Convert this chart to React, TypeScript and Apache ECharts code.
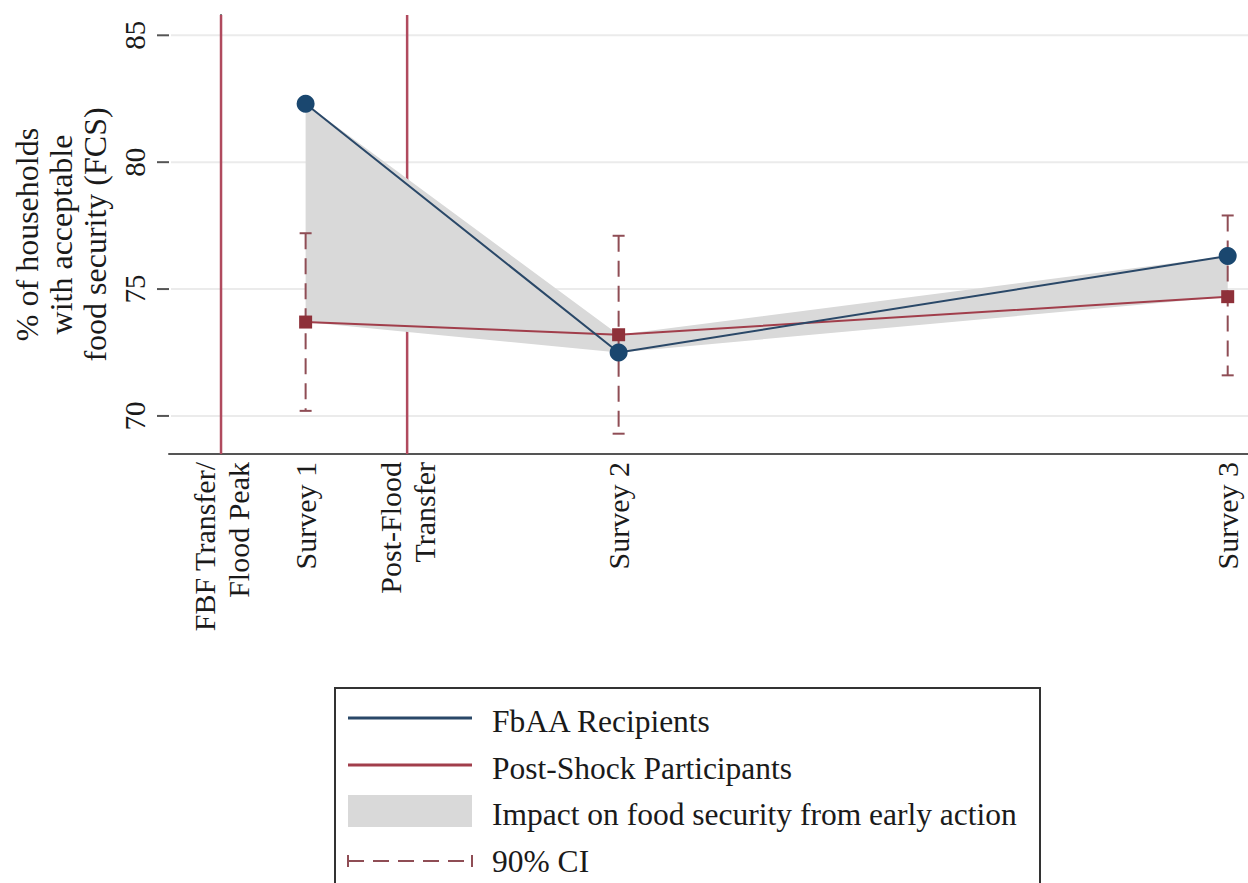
import React, { useEffect, useRef } from "react";
import * as echarts from "echarts";

// Timeline positions (axis units) and their labels
const tickPositions = [0, 10, 22, 47, 119];
const tickLabels = ["FBF Transfer/\nFlood Peak", "Survey 1", "Post-Flood\nTransfer", "Survey 2", "Survey 3"];
const eventPositions = [0, 22];
const surveyPositions = [10, 47, 119];

// Series values (% of households with acceptable FCS)
const fbaaRecipients = [82.3, 72.5, 76.3];
const postShockParticipants = [73.7, 73.2, 74.7];
const ciLower = [70.2, 69.3, 71.6];
const ciUpper = [77.2, 77.1, 77.9];

const yTicks = [70, 75, 80, 85];
const legendLabels = [
  "FbAA Recipients",
  "Post-Shock Participants",
  "Impact on food security from early action",
  "90% CI",
];

const X_MIN = -6.15;
const X_MAX = 121.4;
const Y_MIN = 68.5;
const Y_MAX = 85.8;

const FONT = '"Liberation Serif", "DejaVu Serif", serif';
const BLUE = "#1a476f";
const BLUE_LINE = "#2a4868";
const MAROON = "#8e3039";
const MAROON_LINE = "#a13e4b";
const VLINE = "#b04a5e";
const CI_COLOR = "#8f4d55";
const BAND = "#d9d9d9";
const GRIDC = "#ebebeb";
const AXIS = "#555555";
const TEXT = "#1a1a1a";

export default function App() {
  const ref = useRef<HTMLDivElement>(null);

  useEffect(() => {
    if (!ref.current) return;
    const chart = echarts.init(ref.current, undefined, { renderer: "svg" });

    const bandLow = surveyPositions.map((_, i) => Math.min(fbaaRecipients[i], postShockParticipants[i]));
    const bandHigh = surveyPositions.map((_, i) => Math.max(fbaaRecipients[i], postShockParticipants[i]));

    const legendX = 348;
    const legendX2 = 472;
    const textX = 492;
    const symRows = [718, 765, 811, 861];
    const textRows = [721, 768, 814, 861];

    const option: any = {
      animation: false,
      textStyle: { fontFamily: FONT },
      grid: { left: 169, top: 15, right: 0, bottom: 429, containLabel: false },
      xAxis: {
        type: "value",
        min: X_MIN,
        max: X_MAX,
        axisLine: { show: true, lineStyle: { color: AXIS, width: 2 } },
        axisTick: { show: false },
        splitLine: { show: false },
        axisLabel: {
          customValues: tickPositions,
          rotate: 90,
          margin: 8,
          fontSize: 30,
          lineHeight: 34,
          fontFamily: FONT,
          color: TEXT,
          formatter: (v: number) => {
            const idx = tickPositions.indexOf(v);
            return idx >= 0 ? tickLabels[idx] : "";
          },
        },
      },
      yAxis: {
        type: "value",
        min: Y_MIN,
        max: Y_MAX,
        name: "% of households\nwith acceptable\nfood security (FCS)",
        nameLocation: "middle",
        nameRotate: 90,
        nameGap: 55,
        nameTextStyle: { fontSize: 32, lineHeight: 34, fontFamily: FONT, color: TEXT },
        axisLine: { show: true, lineStyle: { color: AXIS, width: 2 } },
        axisTick: { show: false },
        splitLine: { show: false },
        axisLabel: {
          customValues: yTicks,
          rotate: 90,
          margin: 20,
          fontSize: 29,
          fontFamily: FONT,
          color: TEXT,
          formatter: (v: number) => String(v),
        },
      },
      series: [
        {
          name: "grid",
          type: "custom",
          z: 1,
          silent: true,
          clip: false,
          data: yTicks.map((v) => [X_MIN, v]),
          encode: { x: 0, y: 1 },
          renderItem: (params: any, api: any) => {
            const cs = params.coordSys;
            const p = api.coord([api.value(0), api.value(1)]);
            return {
              type: "group",
              children: [
                {
                  type: "line",
                  shape: { x1: cs.x + 2, y1: p[1], x2: cs.x + cs.width, y2: p[1] },
                  style: { stroke: GRIDC, lineWidth: 2 },
                },
                {
                  type: "line",
                  shape: { x1: cs.x - 12, y1: p[1], x2: cs.x, y2: p[1] },
                  style: { stroke: AXIS, lineWidth: 2 },
                },
              ],
            };
          },
        },
        {
          name: "events",
          type: "custom",
          z: 2,
          silent: true,
          data: eventPositions.map((x) => [x, Y_MIN]),
          encode: { x: 0, y: 1 },
          renderItem: (params: any, api: any) => {
            const cs = params.coordSys;
            const p = api.coord([api.value(0), api.value(1)]);
            return {
              type: "line",
              shape: { x1: p[0], y1: cs.y, x2: p[0], y2: cs.y + cs.height },
              style: { stroke: VLINE, lineWidth: 2.5 },
            };
          },
        },
        {
          name: legendLabels[2],
          type: "custom",
          z: 3,
          silent: true,
          data: surveyPositions.map((x, i) => [x, bandLow[i], bandHigh[i]]),
          encode: { x: 0, y: [1, 2] },
          renderItem: (params: any, api: any) => {
            if (params.dataIndex !== 0) return null;
            const pts: number[][] = [];
            for (let i = 0; i < surveyPositions.length; i++) {
              pts.push(api.coord([surveyPositions[i], bandHigh[i]]));
            }
            for (let i = surveyPositions.length - 1; i >= 0; i--) {
              pts.push(api.coord([surveyPositions[i], bandLow[i]]));
            }
            return { type: "polygon", shape: { points: pts }, style: { fill: BAND } };
          },
        },
        {
          name: legendLabels[3],
          type: "custom",
          z: 4,
          silent: true,
          data: surveyPositions.map((x, i) => [x, ciLower[i], ciUpper[i]]),
          encode: { x: 0, y: [1, 2] },
          renderItem: (params: any, api: any) => {
            const x = api.value(0);
            const pLo = api.coord([x, api.value(1)]);
            const pHi = api.coord([x, api.value(2)]);
            const hw = 6;
            const st = { stroke: CI_COLOR, lineWidth: 2 };
            return {
              type: "group",
              children: [
                { type: "line", shape: { x1: pHi[0], y1: pHi[1], x2: pLo[0], y2: pLo[1] }, style: { ...st, lineDash: [16, 9] } },
                { type: "line", shape: { x1: pLo[0] - hw, y1: pLo[1], x2: pLo[0] + hw, y2: pLo[1] }, style: st },
                { type: "line", shape: { x1: pHi[0] - hw, y1: pHi[1], x2: pHi[0] + hw, y2: pHi[1] }, style: st },
              ],
            };
          },
        },
        {
          name: legendLabels[1],
          type: "line",
          z: 5,
          data: surveyPositions.map((x, i) => [x, postShockParticipants[i]]),
          symbol: "rect",
          symbolSize: 13,
          itemStyle: { color: MAROON },
          lineStyle: { color: MAROON_LINE, width: 2 },
        },
        {
          name: legendLabels[0],
          type: "line",
          z: 6,
          data: surveyPositions.map((x, i) => [x, fbaaRecipients[i]]),
          symbol: "circle",
          symbolSize: 18,
          itemStyle: { color: BLUE },
          lineStyle: { color: BLUE_LINE, width: 2 },
        },
      ],
      graphic: [
        {
          type: "rect",
          z: 100,
          shape: { x: 335, y: 688, width: 705, height: 260 },
          style: { fill: "#ffffff", stroke: "#333333", lineWidth: 2 },
        },
        {
          type: "line",
          z: 101,
          shape: { x1: legendX, y1: symRows[0], x2: legendX2, y2: symRows[0] },
          style: { stroke: BLUE_LINE, lineWidth: 3 },
        },
        {
          type: "line",
          z: 101,
          shape: { x1: legendX, y1: symRows[1], x2: legendX2, y2: symRows[1] },
          style: { stroke: MAROON_LINE, lineWidth: 3 },
        },
        {
          type: "rect",
          z: 101,
          shape: { x: legendX, y: symRows[2] - 16, width: legendX2 - legendX, height: 32 },
          style: { fill: BAND },
        },
        {
          type: "line",
          z: 101,
          shape: { x1: legendX, y1: symRows[3], x2: legendX2, y2: symRows[3] },
          style: { stroke: CI_COLOR, lineWidth: 2, lineDash: [16, 9] },
        },
        {
          type: "line",
          z: 101,
          shape: { x1: legendX, y1: symRows[3] - 6, x2: legendX, y2: symRows[3] + 6 },
          style: { stroke: CI_COLOR, lineWidth: 2 },
        },
        {
          type: "line",
          z: 101,
          shape: { x1: legendX2, y1: symRows[3] - 6, x2: legendX2, y2: symRows[3] + 6 },
          style: { stroke: CI_COLOR, lineWidth: 2 },
        },
        ...legendLabels.map((t, i) => ({
          type: "text",
          z: 102,
          x: textX,
          y: textRows[i],
          style: {
            text: t,
            fontSize: 31.5,
            fontFamily: FONT,
            fill: TEXT,
            verticalAlign: "middle",
            align: "left",
          },
        })),
      ],
    };

    chart.setOption(option);
    return () => chart.dispose();
  }, []);

  return (
    <div
      ref={ref}
      style={{ position: "absolute", left: 0, top: 0, width: 1248, height: 883, background: "#ffffff" }}
    />
  );
}
